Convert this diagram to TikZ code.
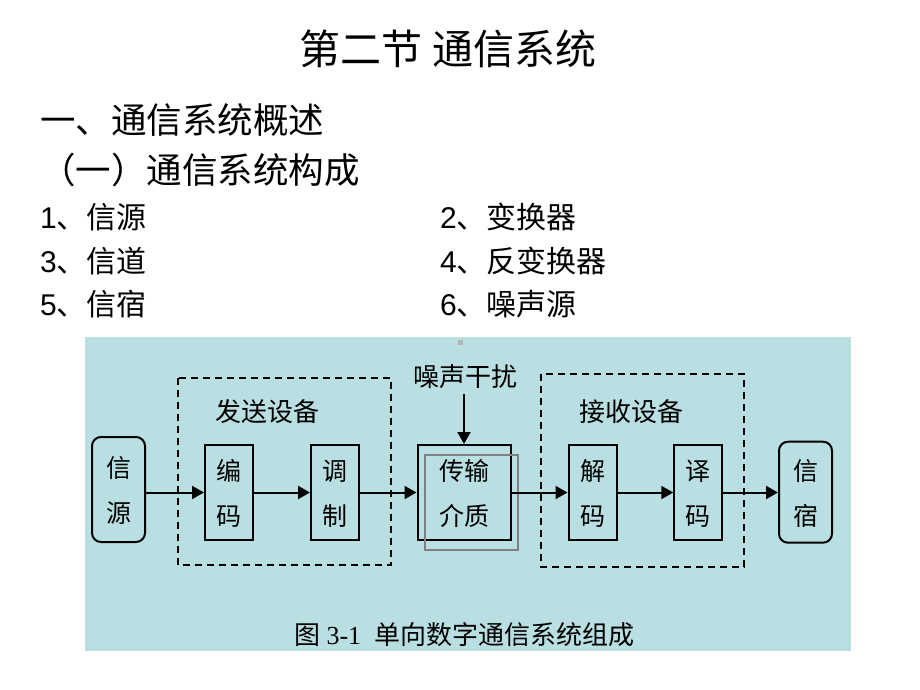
\documentclass[tikz,border=0pt]{standalone}
\usepackage{fontspec}
\newfontfamily\cjk{Noto Sans CJK SC}
\newfontfamily\arial{Liberation Sans}
\newfontfamily\tnr{Liberation Serif}
\usetikzlibrary{arrows.meta}
\definecolor{panelblue}{RGB}{185,223,227}
\definecolor{boxgrey}{RGB}{128,128,128}
\tikzset{>={Triangle[length=12pt,width=13pt]}}
\tikzset{%
    blk/.style={draw,line width=2pt,minimum width=48pt,minimum height=95pt,
        inner sep=0pt,align=center,font=\fontsize{25}{45}\selectfont\cjk},
    endblk/.style={blk,minimum width=53pt,rounded corners=9pt},
    grouplbl/.style={font=\fontsize{26}{30}\selectfont\cjk,inner sep=5pt},
    listitem/.style={anchor=base west,inner sep=0pt,font=\fontsize{30}{36}\selectfont\cjk},
    flow/.style={->,line width=2pt},
    groupbox/.style={line width=2pt,dash pattern=on 7pt off 5pt}
}

\begin{document}
\begin{tikzpicture}[x=1pt,y=-1pt]
    \useasboundingbox (0,0) rectangle (920,690);
    % heading and list
    \node[anchor=base,inner sep=0pt,font=\fontsize{41}{48}\selectfont\cjk] (title) at (448,65) {第二节 通信系统};
    \node[anchor=base west,inner sep=0pt,font=\fontsize{35.5}{42}\selectfont\cjk] (sec) at (40,133) {一、通信系统概述};
    \node[anchor=base west,inner sep=0pt,font=\fontsize{35.5}{42}\selectfont\cjk] (subsec) at (40,183) {（一）通信系统构成};
    \node[listitem] (i1) at (40,228) {{\arial 1}、信源};
    \node[listitem] (i2) at (440,228) {{\arial 2}、变换器};
    \node[listitem] (i3) at (40,272) {{\arial 3}、信道};
    \node[listitem] (i4) at (440,272) {{\arial 4}、反变换器};
    \node[listitem] (i5) at (40,315) {{\arial 5}、信宿};
    \node[listitem] (i6) at (440,315) {{\arial 6}、噪声源};
    % figure panel
    \fill[panelblue] (85,337) rectangle (851,651);
    \fill[boxgrey!60] (457.5,339.5) rectangle (462.5,344.5);
    \draw[groupbox] (178,378) rectangle (391,565);
    \draw[groupbox] (541,374) rectangle (744,567);
    \node[grouplbl] (tx) at (267,412) {发送设备};
    \node[grouplbl] (rx) at (631,412) {接收设备};
    \node[grouplbl] (noise) at (465,377) {噪声干扰};
    \node[endblk,minimum height=105pt,text depth=-6pt] (src) at (118.5,489.5) {信\\源};
    \node[blk,text depth=-6pt] (enc) at (229,492.5) {编\\码};
    \node[blk,text depth=-6pt] (mod) at (335,492.5) {调\\制};
    \node[blk,text depth=-6pt,minimum width=93pt] (med) at (464,492.5) {传输\\介质};
    \draw[boxgrey,line width=2pt] (424.7,454.7) rectangle (518,550);
    \node[blk,text depth=-6pt] (dem) at (592.5,492.5) {解\\码};
    \node[blk,text depth=-6pt] (dec) at (698.3,492.5) {译\\码};
    \node[endblk,minimum height=101pt,text depth=-6pt] (sink) at (805.5,492.2) {信\\宿};
    \draw[flow] (src.east |- enc.west) -- (enc.west);
    \draw[flow] (enc) -- (mod);
    \draw[flow] (mod) -- (med);
    \draw[flow] (med) -- (dem);
    \draw[flow] (dem) -- (dec);
    \draw[flow] (dec.east) -- (sink.west |- dec.east);
    \draw[flow] (noise.south -| med.north) -- (med.north);
    \node[font=\fontsize{26}{30}\selectfont\cjk] (cap) at (464.5,635) {图 {\tnr 3-1}\hspace{0.5em}单向数字通信系统组成};
\end{tikzpicture}
\end{document}
